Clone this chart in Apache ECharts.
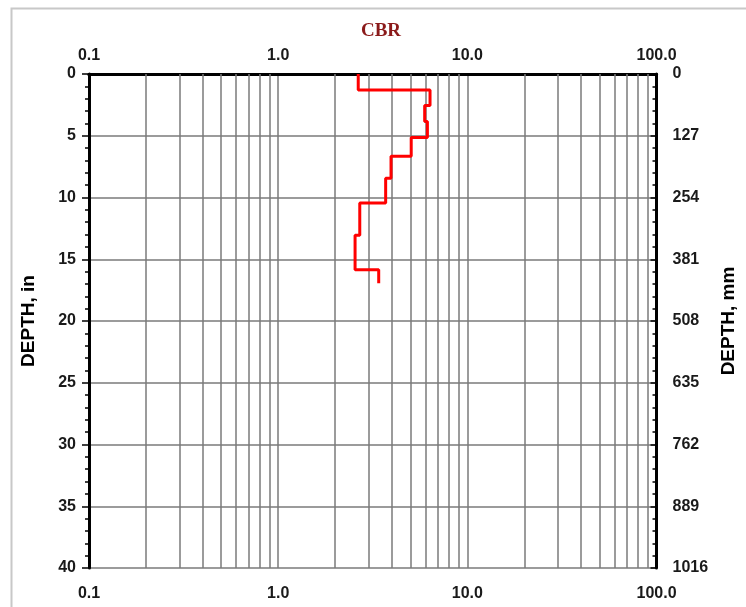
<!DOCTYPE html>
<html>
<head>
<meta charset="utf-8">
<script src="https://cdn.jsdelivr.net/npm/echarts@6/dist/echarts.min.js"></script>
<style>
  html, body { margin: 0; padding: 0; background: #fff; }
  #chart { width: 746px; height: 607px; }
</style>
</head>
<body>
<div id="chart"></div>
<script>
// layer boundaries (depth, in) and CBR of each layer
var depthBreaks = [0, 1.3, 2.55, 3.85, 5.15, 6.65, 8.45, 10.45, 13.05, 15.85, 16.95];
var cbrValues = [2.65, 6.35, 5.95, 6.15, 5.05, 3.95, 3.7, 2.7, 2.55, 3.4];

// gridlines between the decades of the log axis
var minorGrid = [0.2, 0.3, 0.4, 0.5, 0.6, 0.7, 0.8, 0.9,
  2, 3, 4, 5, 6, 7, 8, 9,
  20, 30, 40, 50, 60, 70, 80, 90];

var inchRange = [0, 40];
var mmRange = [0, 1016];

var profile = [];
for (var i = 0; i < cbrValues.length; i++) {
  profile.push([cbrValues[i], depthBreaks[i]]);
  profile.push([cbrValues[i], depthBreaks[i + 1]]);
}

var labelFont = {
  color: "#1a1a1a",
  fontFamily: "Liberation Sans",
  fontWeight: "bold",
  fontSize: 16
};

var gridColor = "#7a7a7a";

var logFormatter = function (v) {
  return Number(v).toFixed(1);
};

var chart = echarts.init(document.getElementById("chart"));

var option = {
  animation: false,
  backgroundColor: "#fff",
  title: {
    text: "CBR",
    left: 376,
    top: 17,
    textAlign: "center",
    textStyle: {
      color: "#8b1a1a",
      fontFamily: "Liberation Serif",
      fontWeight: "bold",
      fontSize: 19
    }
  },
  graphic: [
    {
      type: "rect",
      left: 9,
      top: 6,
      shape: { width: 800, height: 700 },
      style: { fill: null, stroke: "#c8c8c8", lineWidth: 2 },
      silent: true
    }
  ],
  grid: {
    left: 89,
    right: 89,
    top: 74,
    bottom: 39
  },
  xAxis: [
    {
      type: "log",
      logBase: 10,
      min: 0.1,
      max: 100,
      position: "top",
      axisLine: { lineStyle: { color: "#000", width: 3 } },
      axisTick: { show: false },
      axisLabel: Object.assign({ margin: 10, formatter: logFormatter, showMinLabel: true, showMaxLabel: true }, labelFont),
      splitLine: { show: true, lineStyle: { color: gridColor, width: 1.5 } }
    },
    {
      type: "log",
      logBase: 10,
      min: 0.1,
      max: 100,
      position: "bottom",
      axisLine: { lineStyle: { color: "#000", width: 3 } },
      axisTick: { show: false },
      axisLabel: Object.assign({ margin: 18, formatter: logFormatter, showMinLabel: true, showMaxLabel: true }, labelFont),
      splitLine: { show: false }
    }
  ],
  yAxis: [
    {
      type: "value",
      inverse: true,
      min: inchRange[0],
      max: inchRange[1],
      interval: 5,
      position: "left",
      name: "DEPTH, in",
      nameLocation: "middle",
      nameRotate: 90,
      nameGap: 51,
      nameTextStyle: {
        color: "#000",
        fontFamily: "Liberation Sans",
        fontWeight: "bold",
        fontSize: 19
      },
      axisLine: { show: true, lineStyle: { color: "#000", width: 3 } },
      axisTick: { show: true, length: 7, lineStyle: { color: "#000", width: 1.5 } },
      minorTick: { show: true, splitNumber: 5, length: 4, lineStyle: { color: "#000", width: 1.5 } },
      axisLabel: Object.assign({ margin: 13 }, labelFont),
      splitLine: { show: true, lineStyle: { color: gridColor, width: 1.5 } }
    },
    {
      type: "value",
      inverse: true,
      min: mmRange[0],
      max: mmRange[1],
      interval: 127,
      position: "right",
      name: "DEPTH, mm",
      nameLocation: "middle",
      nameRotate: 90,
      nameGap: 57,
      nameTextStyle: {
        color: "#000",
        fontFamily: "Liberation Sans",
        fontWeight: "bold",
        fontSize: 19
      },
      axisLine: { show: true, lineStyle: { color: "#000", width: 3 } },
      axisTick: { show: true, inside: true, length: 6, lineStyle: { color: "#000", width: 1.5 } },
      minorTick: { show: true, splitNumber: 5, length: 4, lineStyle: { color: "#000", width: 1.5 } },
      axisLabel: Object.assign({ margin: 16, formatter: function (v) { return String(v); } }, labelFont),
      splitLine: { show: false }
    }
  ],
  series: [
    {
      type: "line",
      xAxisIndex: 0,
      yAxisIndex: 0,
      data: [],
      z: 1,
      silent: true,
      markLine: {
        silent: true,
        symbol: "none",
        label: { show: false },
        lineStyle: { color: gridColor, width: 1.5, type: "solid" },
        data: minorGrid.map(function (v) { return { xAxis: v }; })
      }
    },
    {
      type: "line",
      xAxisIndex: 0,
      yAxisIndex: 0,
      z: 5,
      showSymbol: false,
      symbol: "none",
      lineStyle: { color: "#ff0000", width: 3 },
      data: profile
    }
  ]
};

chart.setOption(option);
</script>
</body>
</html>
